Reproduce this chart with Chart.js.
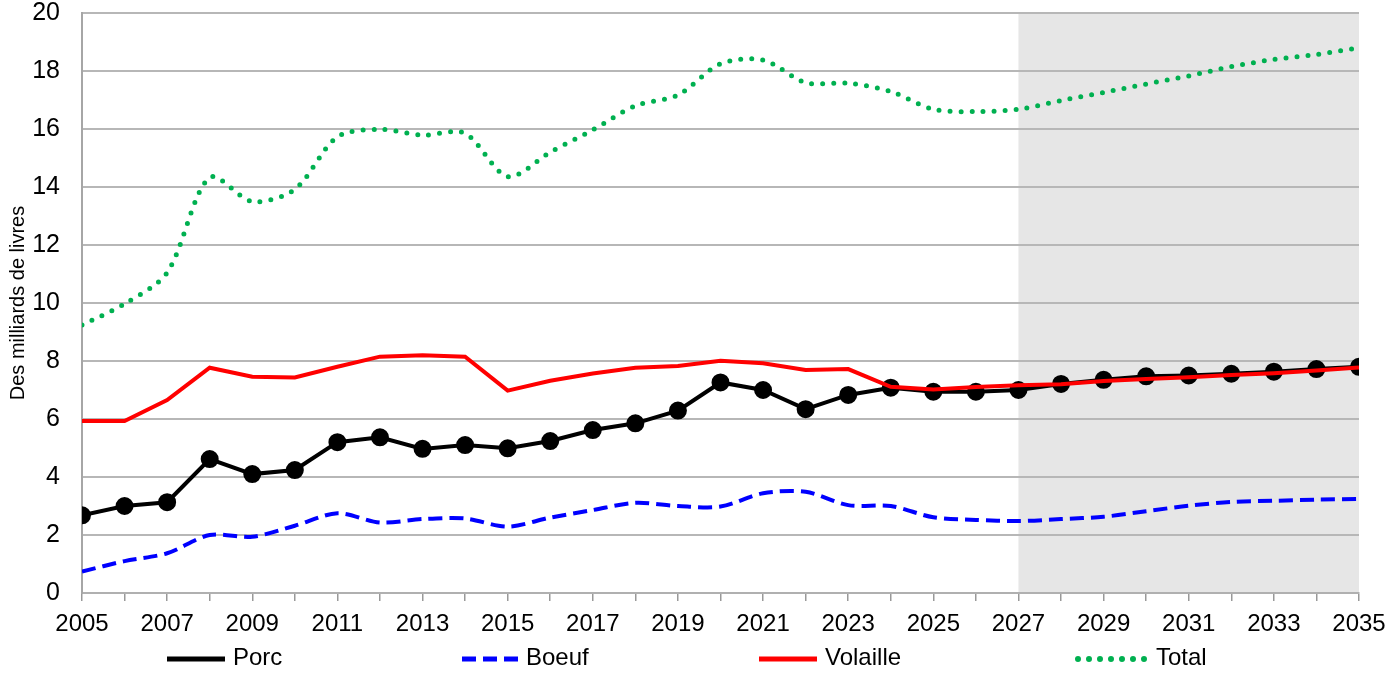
<!DOCTYPE html>
<html>
<head>
<meta charset="utf-8">
<script src="https://cdn.jsdelivr.net/npm/chart.js@4"></script>
<style>
  body { margin: 0; background: #fff; }
  #wrap { width: 1400px; height: 680px; }
</style>
</head>
<body>
<div id="wrap"><canvas id="meatChart"></canvas></div>
<script>
// years 2005 - 2035
const years = [2005, 2006, 2007, 2008, 2009, 2010, 2011, 2012, 2013, 2014, 2015,
  2016, 2017, 2018, 2019, 2020, 2021, 2022, 2023, 2024, 2025,
  2026, 2027, 2028, 2029, 2030, 2031, 2032, 2033, 2034, 2035];

const porc = [2.68, 3.0, 3.13, 4.62, 4.1, 4.24, 5.2, 5.37, 4.97, 5.1, 4.99,
  5.24, 5.62, 5.85, 6.29, 7.26, 7.0, 6.34, 6.83, 7.08, 6.94,
  6.94, 7.0, 7.21, 7.35, 7.47, 7.5, 7.56, 7.63, 7.72, 7.8];

const boeuf = [0.74, 1.1, 1.37, 2.0, 1.94, 2.32, 2.75, 2.43, 2.55, 2.57, 2.29,
  2.6, 2.86, 3.11, 3.0, 2.98, 3.44, 3.49, 3.03, 3.0, 2.61,
  2.52, 2.48, 2.55, 2.63, 2.82, 3.01, 3.14, 3.18, 3.22, 3.24];

const volaille = [5.93, 5.93, 6.65, 7.77, 7.46, 7.43, 7.8, 8.15, 8.2, 8.15, 6.98,
  7.32, 7.57, 7.77, 7.83, 8.01, 7.92, 7.69, 7.72, 7.11, 7.02,
  7.1, 7.16, 7.2, 7.31, 7.38, 7.44, 7.52, 7.58, 7.67, 7.78];

const total = [9.24, 9.97, 11.05, 14.33, 13.5, 13.92, 15.73, 15.99, 15.79, 15.85, 14.36,
  15.2, 15.97, 16.8, 17.17, 18.25, 18.38, 17.6, 17.58, 17.29, 16.68,
  16.6, 16.68, 16.98, 17.26, 17.55, 17.83, 18.15, 18.4, 18.57, 18.8];

const projectionStart = 2027;
const projectionEnd = 2035;

const FONT = "'Liberation Sans', Arial, sans-serif";

function pts(values) {
  return values.map((v, i) => ({ x: years[i], y: v }));
}

// grey background behind the projected years
const shadePlugin = {
  id: "shade",
  beforeDraw(chart) {
    const { ctx, chartArea, scales } = chart;
    const x0 = scales.x.getPixelForValue(projectionStart);
    const x1 = scales.x.getPixelForValue(projectionEnd);
    ctx.save();
    ctx.fillStyle = "#e6e6e6";
    ctx.fillRect(x0, chartArea.top, x1 - x0, chartArea.bottom - chartArea.top);
    ctx.restore();
  },
};

// legend laid out in fixed columns like the original
const legendPlugin = {
  id: "colLegend",
  afterDraw(chart) {
    const ctx = chart.ctx;
    const starts = [167, 462, 759, 1078];
    const lens = [58, 56, 58, 70];
    const y = 659;
    const order = ["Porc", "Boeuf", "Volaille", "Total"];
    ctx.save();
    order.forEach((name, i) => {
      const ds = chart.data.datasets.find((d) => d.label === name);
      ctx.beginPath();
      ctx.strokeStyle = ds.borderColor;
      ctx.lineWidth = ds.borderWidth + 1;
      ctx.lineCap = ds.borderCapStyle || "butt";
      ctx.setLineDash(ds.borderDash || []);
      ctx.moveTo(starts[i], y);
      ctx.lineTo(starts[i] + lens[i], y);
      ctx.stroke();
      ctx.setLineDash([]);
      ctx.fillStyle = "#000";
      ctx.font = "24px " + FONT;
      ctx.textBaseline = "middle";
      ctx.fillText(name, starts[i] + lens[i] + 8, y - 1);
    });
    ctx.restore();
  },
};

const ctx = document.getElementById("meatChart").getContext("2d");
const myChart = new Chart(ctx, {
  type: "line",
  data: {
    datasets: [
      {
        label: "Volaille",
        data: pts(volaille),
        borderColor: "#ff0000",
        borderWidth: 4,
        pointRadius: 0,
        tension: 0,
        order: 0,
      },
      {
        label: "Porc",
        data: pts(porc),
        borderColor: "#000000",
        backgroundColor: "#000000",
        borderWidth: 4,
        pointRadius: 7,
        pointBackgroundColor: "#000000",
        tension: 0,
        order: 1,
      },
      {
        label: "Boeuf",
        data: pts(boeuf),
        borderColor: "#0000ff",
        borderWidth: 4,
        borderDash: [14, 7],
        pointRadius: 0,
        tension: 0.3,
        order: 2,
      },
      {
        label: "Total",
        data: pts(total),
        borderColor: "#00b050",
        borderWidth: 5,
        borderDash: [0, 11],
        borderCapStyle: "round",
        pointRadius: 0,
        tension: 0.3,
        order: 3,
      },
    ],
  },
  options: {
    responsive: true,
    maintainAspectRatio: false,
    animation: false,
    layout: { padding: { top: 0, right: 41, bottom: 0, left: 0 } },
    plugins: {
      legend: { display: false },
      tooltip: { enabled: false },
    },
    scales: {
      x: {
        type: "linear",
        min: 2005,
        max: 2035,
        ticks: {
          stepSize: 1,
          autoSkip: false,
          maxRotation: 0,
          padding: 9,
          color: "#000",
          font: { family: FONT, size: 24 },
          callback: (v) => ((v - 2005) % 2 === 0 ? String(v) : ""),
        },
        grid: {
          drawOnChartArea: false,
          color: "#999",
          tickLength: 8,
          lineWidth: 1.5,
        },
        border: { color: "#b0b0b0", width: 2 },
        afterFit: (scale) => { scale.height = 87; },
      },
      y: {
        min: 0,
        max: 20,
        ticks: {
          stepSize: 2,
          padding: 22,
          color: "#000",
          font: { family: FONT, size: 25 },
        },
        grid: {
          color: "#b7b7b7",
          lineWidth: 2,
          drawTicks: false,
        },
        border: { color: "#a6a6a6", width: 2 },
        title: {
          display: true,
          text: "Des milliards de livres",
          color: "#000",
          font: { family: FONT, size: 20 },
          padding: { top: 6, bottom: 0 },
        },
        afterFit: (scale) => {
          scale.width = 82;
          scale.paddingTop = 13;
        },
      },
    },
  },
  plugins: [shadePlugin, legendPlugin],
});
</script>
</body>
</html>
